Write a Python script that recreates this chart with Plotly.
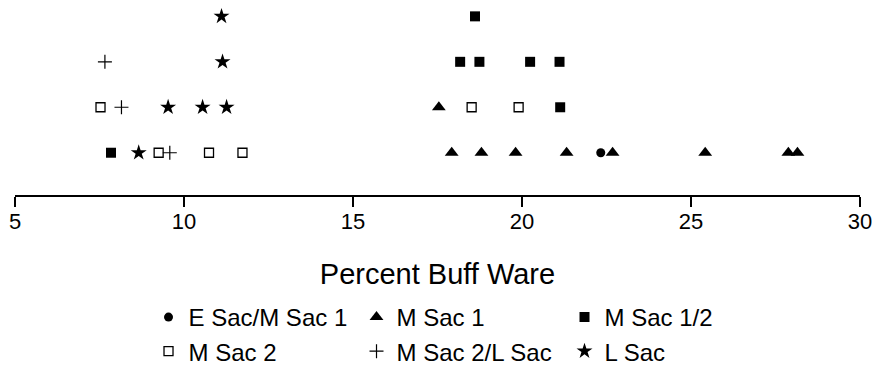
import plotly.graph_objects as go

# Percent Buff Ware values by phase; stack level = row in the dot plot
e_sac_m1_x = [22.33]
e_sac_m1_y = [1]

m_sac1_x = [17.92, 18.80, 19.81, 21.32, 22.68, 25.42, 27.88, 28.15, 17.54]
m_sac1_y = [1, 1, 1, 1, 1, 1, 1, 1, 2]

m_sac12_x = [7.84, 21.13, 18.17, 18.74, 20.24, 21.11, 18.61]
m_sac12_y = [1, 2, 3, 3, 3, 3, 4]

m_sac2_x = [9.25, 10.74, 11.73, 7.53, 18.51, 19.90]
m_sac2_y = [1, 1, 1, 2, 2, 2]

m_sac2_l_x = [9.58, 8.15, 7.66]
m_sac2_l_y = [1, 2, 3]

l_sac_x = [8.66, 9.53, 10.55, 11.26, 11.14, 11.11]
l_sac_y = [1, 2, 2, 2, 3, 4]

x_ticks = [5, 10, 15, 20, 25, 30]
x_title = "Percent Buff Ware"

# (name, x, y, marker, legend row)
series = [
    ("E Sac/M Sac 1", e_sac_m1_x, e_sac_m1_y, dict(symbol="circle", size=9, color="black"), "legend"),
    ("M Sac 1", m_sac1_x, m_sac1_y, dict(symbol="triangle-up", size=12, color="black"), "legend"),
    ("M Sac 1/2", m_sac12_x, m_sac12_y, dict(symbol="square", size=10, color="black"), "legend"),
    ("M Sac 2", m_sac2_x, m_sac2_y, dict(symbol="square-open", size=9, color="black", line=dict(width=1.3, color="black")), "legend2"),
    ("M Sac 2/L Sac", m_sac2_l_x, m_sac2_l_y, dict(symbol="cross-thin-open", size=10, color="black", line=dict(width=1.2, color="black")), "legend2"),
    ("L Sac", l_sac_x, l_sac_y, dict(symbol="star", size=12, color="black"), "legend2"),
]

fig = go.Figure()
for name, xs, ys, mk, lg in series:
    fig.add_trace(go.Scatter(x=xs, y=ys, mode="markers", name=name, marker=mk,
                             cliponaxis=False, legend=lg))

legend_common = dict(
    orientation="h", x=0.158, xanchor="left", yref="container", yanchor="top",
    entrywidth=163, entrywidthmode="pixels",
    font=dict(size=24, color="black"), itemsizing="trace",
    bgcolor="rgba(0,0,0,0)",
)

fig.update_layout(
    width=874, height=366,
    margin=dict(l=15, r=14, t=0, b=171),
    paper_bgcolor="white", plot_bgcolor="white",
    font=dict(family="Liberation Sans, Arial, sans-serif", color="black"),
    showlegend=True,
    legend=dict(legend_common, y=0.194),
    legend2=dict(legend_common, y=0.101),
    xaxis=dict(
        range=[5, 30], tickvals=x_ticks, ticktext=[str(t) for t in x_ticks],
        showline=True, linecolor="black", linewidth=2,
        ticks="outside", ticklen=10, tickwidth=2, tickcolor="black",
        tickfont=dict(size=22, color="black"), ticklabelstandoff=-4,
        showgrid=False, zeroline=False,
        title=dict(text=x_title, font=dict(size=29, color="black"), standoff=30),
    ),
    yaxis=dict(range=[0.07, 4.36], visible=False, showgrid=False, zeroline=False),
)

fig.write_html("out.html")
